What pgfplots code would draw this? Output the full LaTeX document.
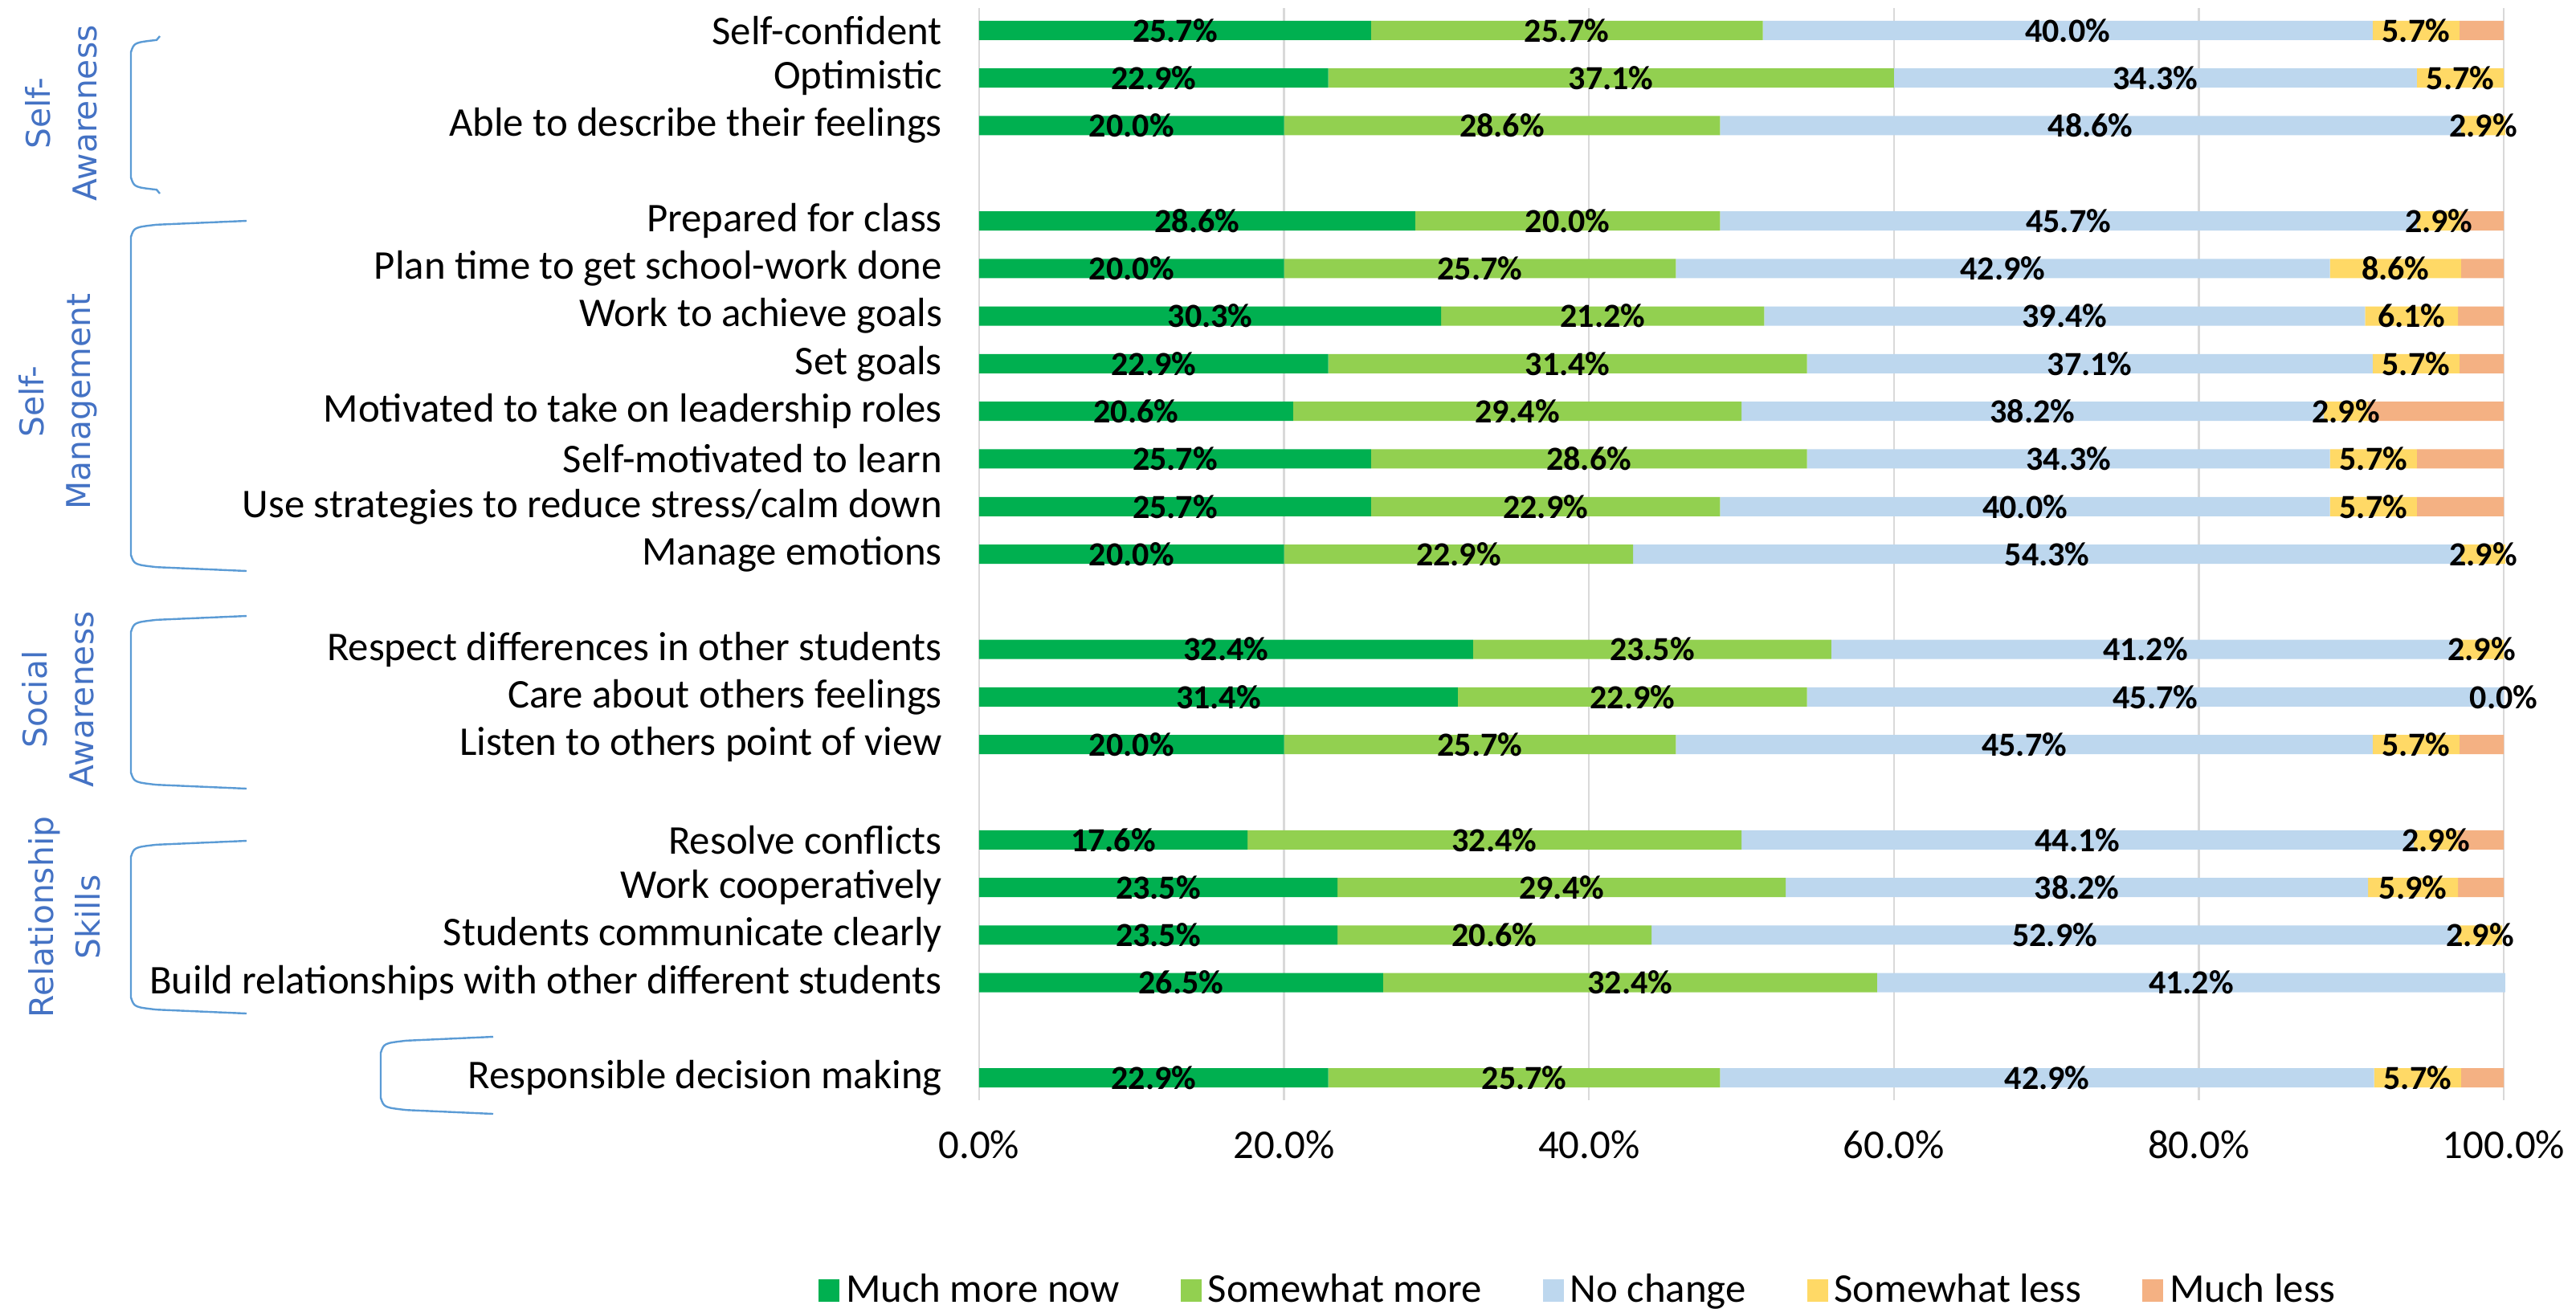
\documentclass[border=0pt]{standalone}
\usepackage{fontspec}
\setmainfont{Carlito}
\newfontfamily\grpfont{DejaVu Sans}
\usepackage{pgfplots}
\usepackage{pgfplotstable}
\pgfplotsset{compat=1.18}

\definecolor{c1}{HTML}{00B050}
\definecolor{c2}{HTML}{92D050}
\definecolor{c3}{HTML}{BDD7EE}
\definecolor{c4}{HTML}{FFD966}
\definecolor{c5}{HTML}{F4B183}
\definecolor{grp}{HTML}{4472C4}
\definecolor{brc}{HTML}{5B9BD5}
\definecolor{gridc}{HTML}{D9D9D9}

\pgfplotstableread{
pos a b c d e
0 25.7 25.7 40.0 5.7 2.9
1 22.9 37.1 34.3 5.7 0.0
2 20.0 28.6 48.6 2.9 0.0
4 28.6 20.0 45.7 2.9 2.8
5 20.0 25.7 42.9 8.6 2.8
6 30.3 21.2 39.4 6.1 3.0
7 22.9 31.4 37.1 5.7 2.9
8 20.6 29.4 38.2 2.9 8.9
9 25.7 28.6 34.3 5.7 5.7
10 25.7 22.9 40.0 5.7 5.7
11 20.0 22.9 54.3 2.9 0.0
13 32.4 23.5 41.2 2.9 0.0
14 31.4 22.9 45.7 0.0 0.0
15 20.0 25.7 45.7 5.7 2.9
17 17.6 32.4 44.1 2.9 3.0
18 23.5 29.4 38.2 5.9 3.0
19 23.5 20.6 52.9 2.9 0.0
20 26.5 32.4 41.2 0.0 0.0
22 22.9 25.7 42.9 5.7 2.8
}\data

\pgfplotsset{
  frame/.style={at={(0pt,0pt)}, anchor=north west,
    scale only axis, width=474.5pt, height=340pt,
    xmin=0, xmax=100, ymin=-0.47, ymax=22.47, y dir=reverse, clip=false,
    /pgf/number format/assume math mode=true},
  lab/.style={only marks, mark=none,
    point meta=explicit,
    nodes near coords={\pgfmathprintnumber[fixed,fixed zerofill,precision=1,assume math mode=true]{\pgfplotspointmeta}\%},
    nodes near coords style={anchor=center, inner sep=0pt, text=black,
      font=\bfseries\fontsize{10.5}{12}\selectfont}},
}

\begin{document}
\begin{tikzpicture}
\begin{axis}[
  frame,
  xbar stacked, bar width=6pt,
  xtick={0,20,40,60,80,100},
  xticklabel={\pgfmathprintnumber[fixed,fixed zerofill,precision=1]{\tick}\%},
  xticklabel style={font=\fontsize{12.7}{15}\selectfont, yshift=-6pt},
  ytick={0,1,2,4,5,6,7,8,9,10,11,13,14,15,17,18,19,20,22},
  yticklabels={Self-confident,Optimistic,Able to describe their feelings,
    Prepared for class,Plan time to get school-work done,Work to achieve goals,
    Set goals,Motivated to take on leadership roles,Self-motivated to learn,
    Use strategies to reduce stress/calm down,Manage emotions,
    Respect differences in other students,Care about others feelings,
    Listen to others point of view,Resolve conflicts,Work cooperatively,
    Students communicate clearly,Build relationships with other different students,
    Responsible decision making},
  yticklabel style={font=\fontsize{12.7}{15}\selectfont, anchor=east, xshift=-8pt},
  xmajorgrids, major grid style={draw=gridc, line width=0.6pt},
  axis line style={draw=none}, tick style={draw=none},
  legend columns=5,
  legend style={at={(-0.112,-0.174)}, anchor=west, draw=none, fill=none,
    font=\fontsize{12.7}{15}\selectfont,
    /tikz/every even column/.append style={column sep=17pt}},
  legend image code/.code={\fill[#1] (0pt,-3.5pt) rectangle (6.5pt,3.5pt);},
]
\addplot[fill=c1, draw=none] table[x=a, y=pos]{\data};
\addplot[fill=c2, draw=none] table[x=b, y=pos]{\data};
\addplot[fill=c3, draw=none] table[x=c, y=pos]{\data};
\addplot[fill=c4, draw=none] table[x=d, y=pos]{\data};
\addplot[fill=c5, draw=none] table[x=e, y=pos]{\data};
\legend{Much more now,Somewhat more,No change,Somewhat less,Much less}
\end{axis}

\begin{axis}[frame, hide axis]
\addplot[lab] table[x expr=\thisrow{a}/2, y=pos, meta=a]{\data};
\addplot[lab] table[x expr=\thisrow{a}+\thisrow{b}/2, y=pos, meta=b]{\data};
\addplot[lab] table[x expr=\thisrow{a}+\thisrow{b}+\thisrow{c}/2, y=pos, meta=c]{\data};
\addplot[lab, skip coords between index={17}{18}] table[x expr=\thisrow{a}+\thisrow{b}+\thisrow{c}+\thisrow{d}/2, y=pos, meta=d]{\data};
\end{axis}

% group braces
\begin{scope}[x=1pt, y=1pt, draw=brc, line width=0.6pt]
\foreach \xa/\xr/\top/\bot in {-264/-255/-8.75/-57.75, -264/-228/-66.25/-175.25,
  -264/-228/-189.25/-243, -264/-228/-259.25/-313, -186.25/-151.25/-320.25/-344.25}{
  \draw (\xr,\top) -- ({\xa+8},{\top-1.2}) .. controls ({\xa+1},{\top-2}) .. (\xa,{\top-5})
    -- (\xa,{\bot+5}) .. controls ({\xa+1},{\bot+2}) .. ({\xa+8},{\bot+1.2}) -- (\xr,\bot);
}
\end{scope}
\begin{scope}[every node/.style={rotate=90, align=center, text=grp, inner sep=0pt,
    font=\grpfont\fontsize{10.2}{14.5}\selectfont}]
\node at (-285.75pt,-32.75pt) {Self-\\Awareness};
\node at (-286.75pt,-122.5pt) {Self-\\Management};
\node at (-286.75pt,-215.25pt) {Social\\Awareness};
\node at (-284.75pt,-283pt) {Relationship\\Skills};
\end{scope}

\pgfresetboundingbox
\path (-304.75pt,2.5pt) rectangle (497pt,-404.75pt);
\end{tikzpicture}
\end{document}
